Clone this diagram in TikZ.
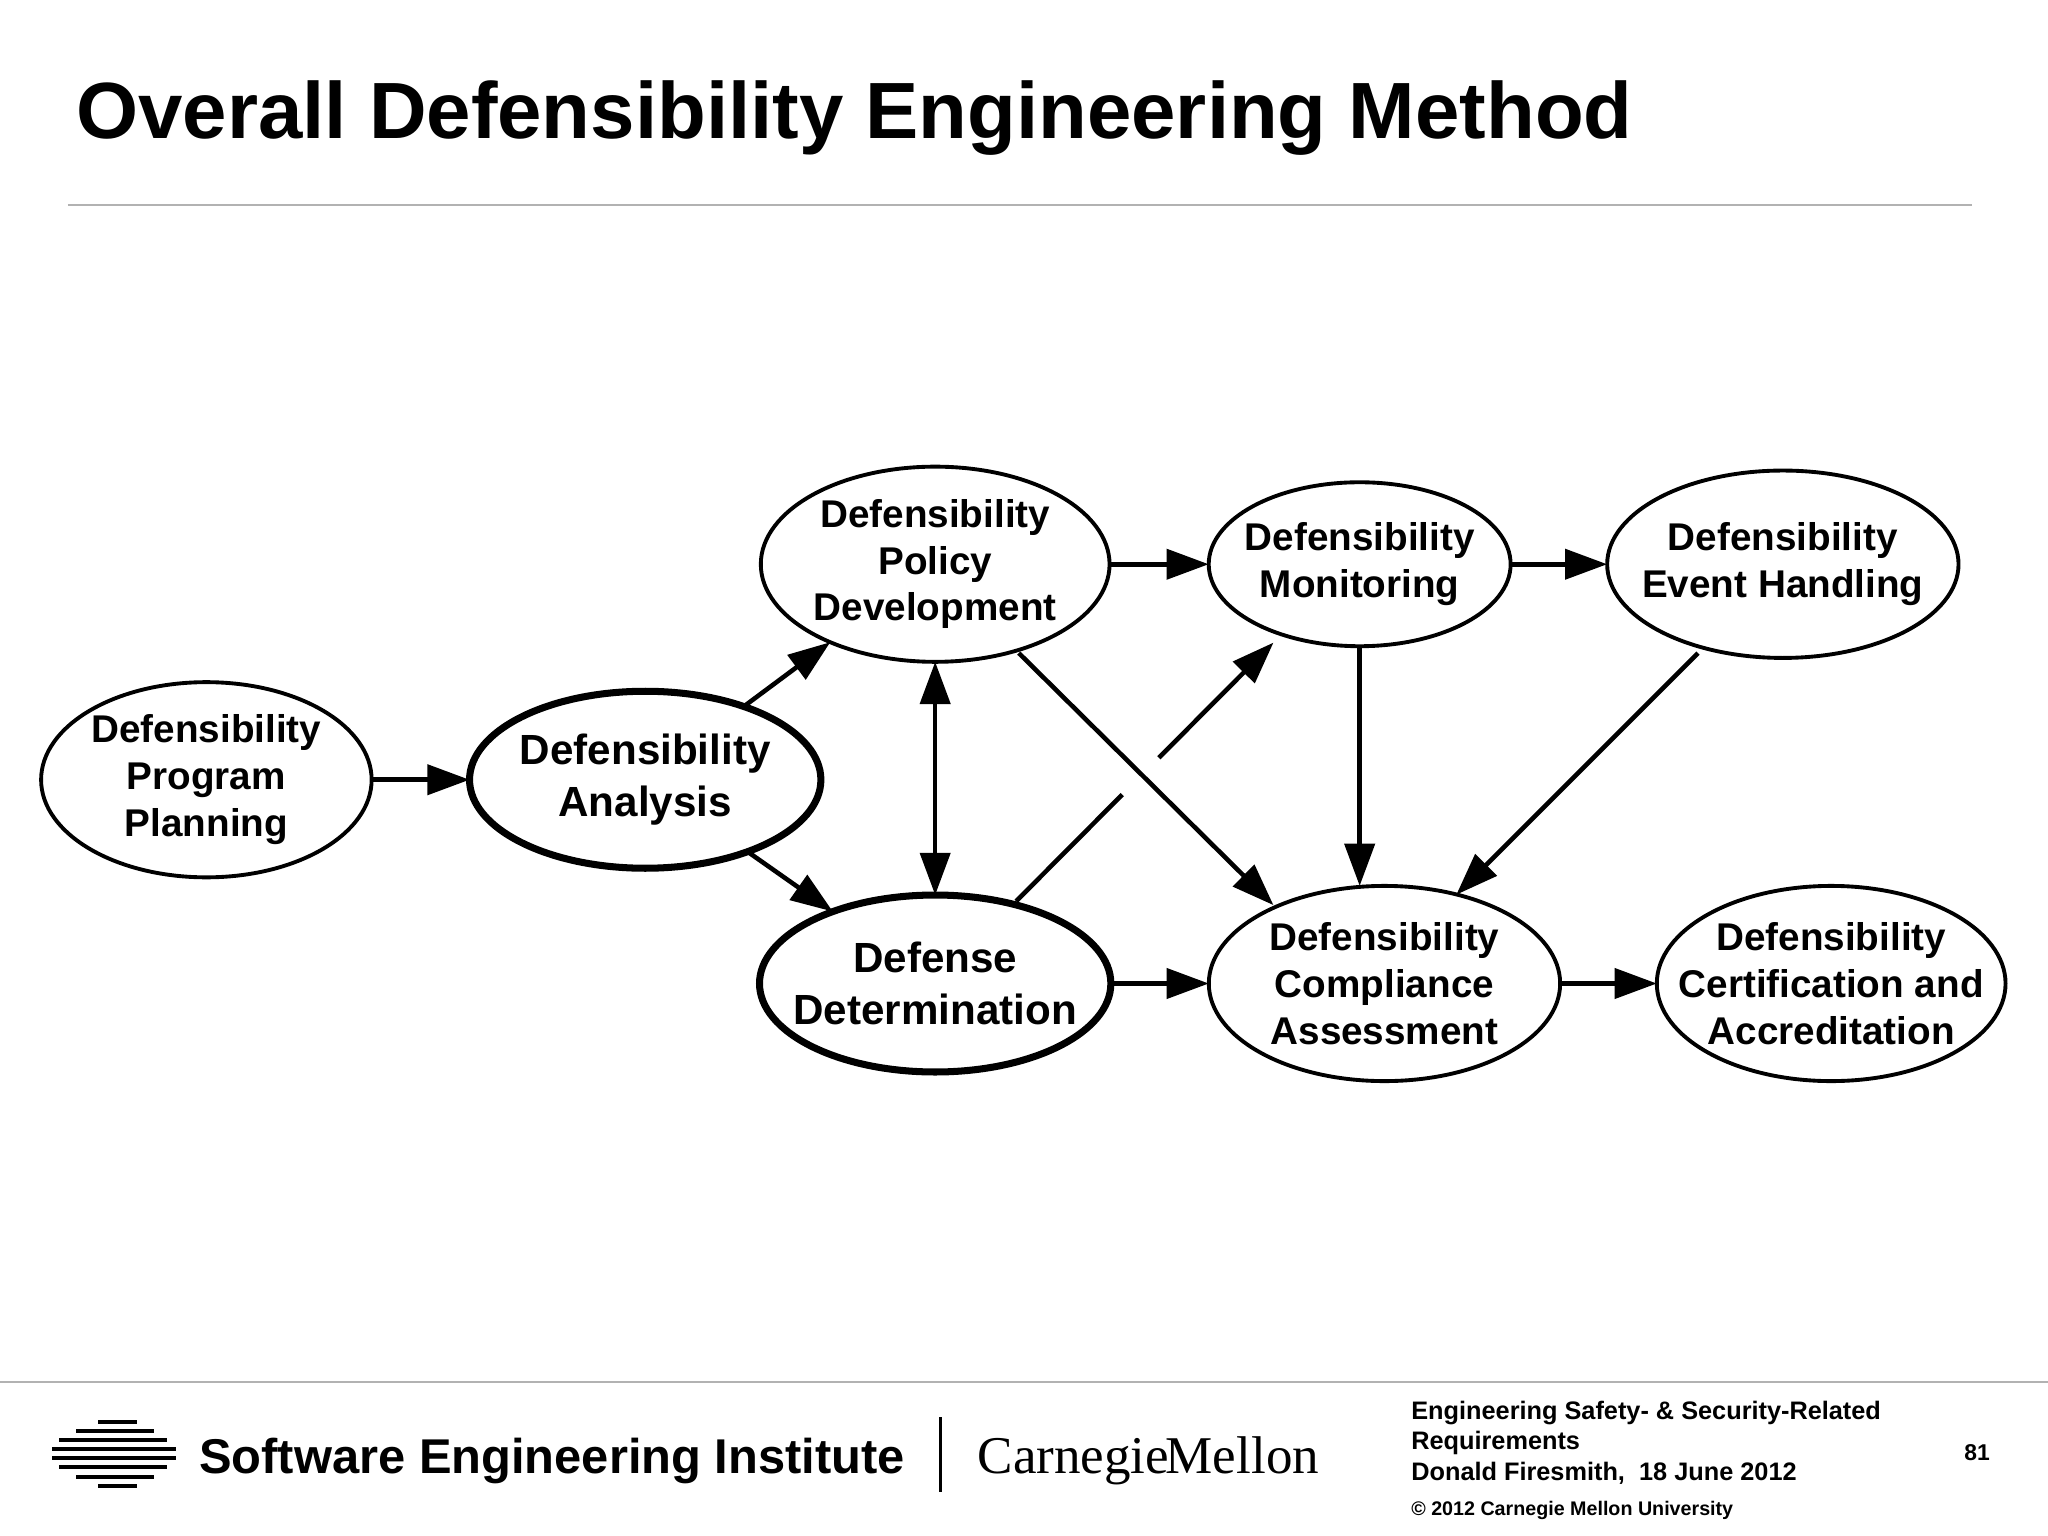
\documentclass[tikz,border=0pt]{standalone}
\usepackage{fontspec}
\setmainfont{Liberation Sans}
\newfontfamily\cmfont{Liberation Serif}
\usetikzlibrary{shapes.geometric,arrows.meta}
\begin{document}
\begin{tikzpicture}[x=0.013061cm,y=-0.013061cm,
  proc/.style={ellipse,draw,line width=1.1pt,inner sep=0pt,outer sep=0pt},
  txt/.style={label={[align=center,font=\bfseries\fontsize{11pt}{13.3pt}\selectfont]center:#1}},
  bigtxt/.style={label={[align=center,font=\bfseries\fontsize{12pt}{14.8pt}\selectfont]center:#1}},
  sz/.style 2 args={minimum width={#1*0.37025pt},minimum height={#2*0.37025pt}},
  arr/.style={line width=1.3pt,-{Triangle[length=12pt,width=8.5pt]}},
  darr/.style={line width=1.3pt,{Triangle[length=12pt,width=8.5pt]}-{Triangle[length=12pt,width=8.5pt]}}]
\useasboundingbox (0,0) rectangle (1568,1176);
\fill[white] (0,0) rectangle (1568,1176);
\node[anchor=base west,inner sep=0pt,font=\bfseries\fontsize{22.7pt}{26pt}\selectfont] (title) at (58,106) {Overall Defensibility Engineering Method};
\draw[gray!60,line width=0.5pt] (52,157) -- (1510,157);
\node[proc,sz={254}{150},txt={Defensibility\\Program\\Planning}] (plan) at (158,597) {};
\node[proc,line width=2pt,sz={270}{136},bigtxt={Defensibility\\Analysis}] (ana) at (494,597) {};
\node[proc,sz={268}{150},txt={Defensibility\\Policy\\Development}] (pol) at (716,432) {};
\node[proc,line width=2pt,sz={270}{136},bigtxt={Defense\\Determination}] (dd) at (716,753) {};
\node[proc,sz={232}{126},txt={Defensibility\\Monitoring}] (mon) at (1041,432) {};
\node[proc,sz={270}{144},txt={Defensibility\\Event Handling}] (evt) at (1365,432) {};
\node[proc,sz={270}{150},txt={Defensibility\\Compliance\\Assessment}] (comp) at (1060,753) {};
\node[proc,sz={268}{150},txt={Defensibility\\Certification and\\Accreditation}] (cert) at (1402,753) {};
\coordinate (pc1) at (780,500); \coordinate (pc2) at (975,693);
\coordinate (dm1) at (778,690); \coordinate (dm2) at (975,492);
\coordinate (ec1) at (1300,500); \coordinate (ec2) at (1115,685);
\coordinate (w1) at (859,608); \coordinate (w2) at (887,580);
\draw[arr] (plan) -- (ana);
\draw[arr] (ana) -- (pol);
\draw[arr] (ana) -- (dd);
\draw[darr] (pol) -- (dd);
\draw[arr] (pol) -- (mon);
\draw[arr] (mon) -- (evt);
\draw[arr] (dm1) -- (dm2);
\draw[line width=4pt,white] (w1) -- (w2);
\draw[arr] (pc1) -- (pc2);
\draw[arr] (mon.south) -- (mon.south |- comp.north);
\draw[arr] (ec1) -- (ec2);
\draw[arr] (dd) -- (comp);
\draw[arr] (comp) -- (cert);
% footer
\draw[gray!60,line width=0.5pt] (0,1058) -- (1568,1058);
\foreach \i/\a/\b in {0/75/105,1/58/118,2/45/128,3/40/135,4/40/135,5/45/128,6/58/118,7/75/105}
  \fill (\a,1087+\i*7) rectangle (\b,1090+\i*7);
\node[anchor=base west,inner sep=0pt,font=\bfseries\fontsize{13.9pt}{16pt}\selectfont] (sei) at (152,1128) {Software Engineering Institute};
\draw[line width=0.7pt] (720,1085) -- (720,1142);
\node[anchor=base west,inner sep=0pt,font=\cmfont\fontsize{15.1pt}{18pt}\selectfont] (cmu) at (748,1128) {Carnegie\kern-1pt Mellon};
\node[anchor=north west,inner sep=0pt,align=left,font=\bfseries\fontsize{7.2pt}{8.7pt}\selectfont] (ft) at (1080,1072) {Engineering Safety- \& Security-Related\\Requirements\\Donald Firesmith,\ \ 18 June 2012};
\node[anchor=base west,inner sep=0pt,font=\bfseries\fontsize{5.6pt}{7pt}\selectfont] (cp) at (1080,1160) {\textcopyright\ 2012 Carnegie Mellon University};
\node[anchor=base east,inner sep=0pt,font=\bfseries\fontsize{6.5pt}{8pt}\selectfont] (pg) at (1524,1118) {81};
\end{tikzpicture}
\end{document}
